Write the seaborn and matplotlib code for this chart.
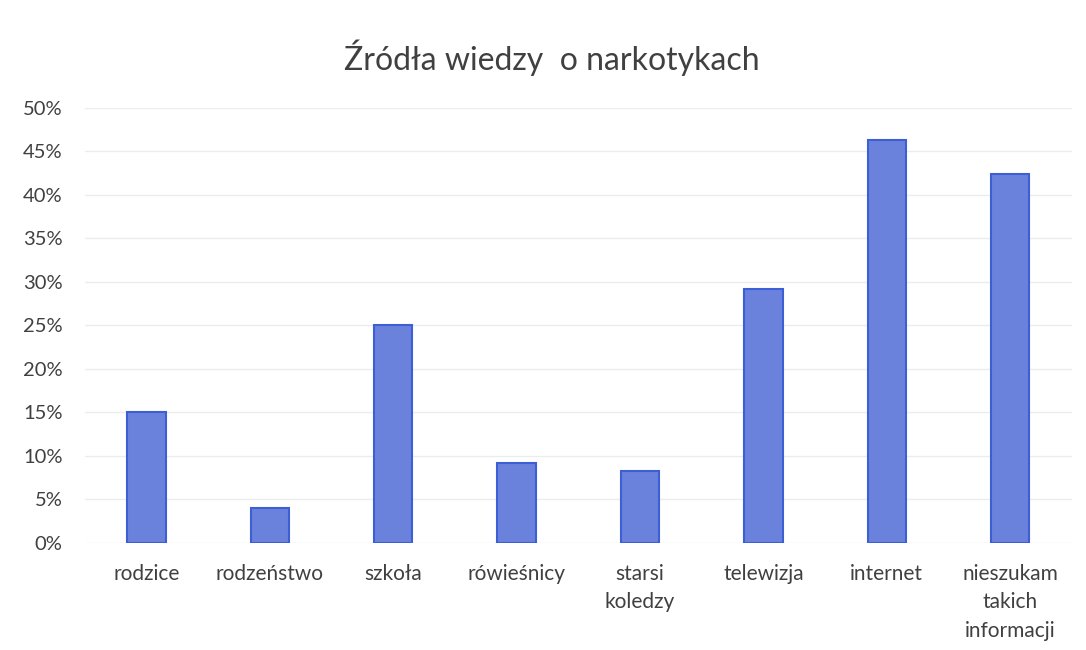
import pandas as pd
import seaborn as sns
import matplotlib.pyplot as plt
from matplotlib.ticker import PercentFormatter

categories = ["rodzice", "rodzeństwo", "szkoła", "rówieśnicy", "starsi\nkoledzy",
              "telewizja", "internet", "nieszukam\ntakich\ninformacji"]
shares = [0.15, 0.04, 0.25, 0.092, 0.083, 0.292, 0.463, 0.424]
ytick_values = [0.0, 0.05, 0.10, 0.15, 0.20, 0.25, 0.30, 0.35, 0.40, 0.45, 0.50]

sns.set_style("white")
plt.rcParams["font.family"] = ["Lato", "DejaVu Sans"]

df = pd.DataFrame({"source": categories, "share": shares})

fig = plt.figure(figsize=(10.86, 6.5), dpi=100)
ax = fig.add_axes([0.078, 0.165, 0.909, 0.669])

sns.barplot(data=df, x="source", y="share", ax=ax, width=0.31,
            color="#6b82dc", edgecolor="#3c5fd6", linewidth=1.5, saturation=1)

ax.set_ylim(0, 0.5)
ax.set_yticks(ytick_values)
ax.yaxis.set_major_formatter(PercentFormatter(1.0, decimals=0))
ax.grid(axis="y", color="#ececec", linewidth=1)
ax.set_axisbelow(True)
for s in ax.spines.values():
    s.set_visible(False)
ax.tick_params(axis="y", length=0, labelsize=14.5, labelcolor="#404040", pad=16)
ax.tick_params(axis="x", length=0, labelsize=15, labelcolor="#404040", pad=15)
for lbl in ax.get_xticklabels():
    lbl.set_linespacing(1.55)
ax.set_xlabel("")
ax.set_ylabel("")

fig.suptitle("Źródła wiedzy  o narkotykach", x=0.508, y=0.94, fontsize=23, color="#404040")

fig.savefig("out.png", dpi=100, facecolor="white")
